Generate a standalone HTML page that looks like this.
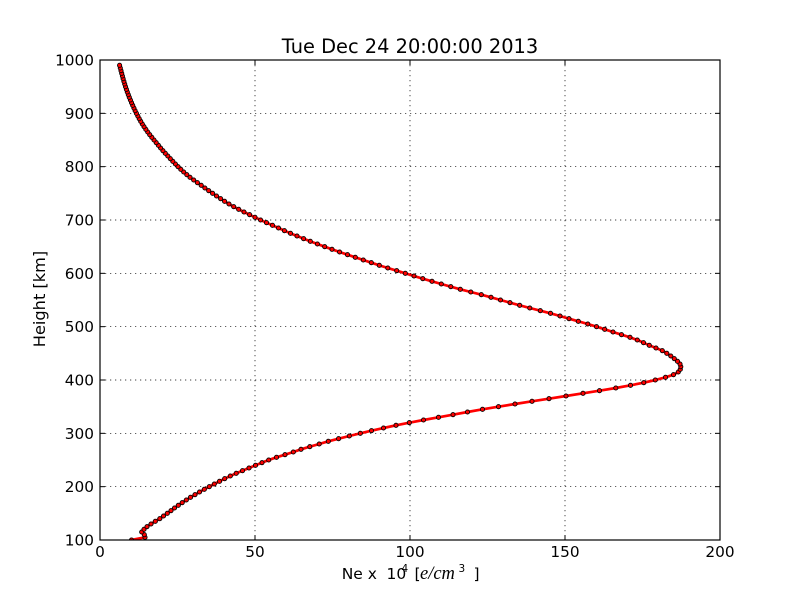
<!DOCTYPE html>
<html>
<head>
<meta charset="utf-8">
<style>
  html,body{margin:0;padding:0;background:#fff;}
  svg{display:block;}
  text{font-family:"DejaVu Sans","Liberation Sans",sans-serif;fill:#000;}
</style>
</head>
<body>
<svg width="800" height="600" viewBox="0 0 800 600" xmlns="http://www.w3.org/2000/svg">
  <defs>
    <clipPath id="ax"><rect x="100" y="60" width="620" height="480"/></clipPath>
    <marker id="m" markerWidth="8" markerHeight="8" refX="4" refY="4" markerUnits="userSpaceOnUse">
      <circle cx="4" cy="4" r="2.1" fill="#ff0000" stroke="#000" stroke-width="0.9"/>
    </marker>
  </defs>
  <rect width="800" height="600" fill="#fff"/>

  <!-- grid -->
  <g stroke="#000" stroke-width="0.7" stroke-dasharray="1.25 3.75" fill="none">
    <line x1="255" y1="60" x2="255" y2="540"/>
    <line x1="410" y1="60" x2="410" y2="540"/>
    <line x1="565" y1="60" x2="565" y2="540"/>
    <line x1="100" y1="113.33" x2="720" y2="113.33"/>
    <line x1="100" y1="166.67" x2="720" y2="166.67"/>
    <line x1="100" y1="220" x2="720" y2="220"/>
    <line x1="100" y1="273.33" x2="720" y2="273.33"/>
    <line x1="100" y1="326.67" x2="720" y2="326.67"/>
    <line x1="100" y1="380" x2="720" y2="380"/>
    <line x1="100" y1="433.33" x2="720" y2="433.33"/>
    <line x1="100" y1="486.67" x2="720" y2="486.67"/>
  </g>

  <!-- data -->
  <g clip-path="url(#ax)">
    <polyline fill="none" stroke="#ff0000" stroke-width="2.7" stroke-linejoin="round"
      marker-start="url(#m)" marker-mid="url(#m)" marker-end="url(#m)"
      points="131.5,540 145,537.33 144.3,534.67 141.7,532 144,529.33 147,526.67 151,524 155.3,521.33 159.8,518.67 163.5,516 167.3,513.33 171,510.67 174.5,508 178.3,505.33 182.2,502.67 186.3,500 190.5,497.33 195,494.67 199.5,492 204.3,489.33 209.3,486.67 214.3,484 219.5,481.33 224.7,478.67 230.3,476 236.2,473.33 242.5,470.67 249,468 255.5,465.33 262,462.67 268.7,460 276.5,457.33 285,454.67 293.3,452 301,449.33 309.8,446.67 319.2,444 328.3,441.33 338.6,438.67 349.3,436 360.3,433.33 371.5,430.67 383.5,428 396,425.33 409.3,422.67 423.5,420 438.5,417.33 453,414.67 467.5,412 482.5,409.33 498.5,406.67 515,404 532,401.33 549,398.67 566,396 583,393.33 599.5,390.67 615.8,388 630.5,385.33 643.8,382.67 655.3,380 665.5,377.33 673.5,374.67 678.3,372 680.3,369.33 680.8,366.67 680,364 677.5,361.33 674.3,358.67 670.8,356 666.8,353.33 662.3,350.67 656,348 649.3,345.33 643.5,342.67 637.3,340 630,337.33 621.5,334.67 613,332 604.7,329.33 596.5,326.67 587.8,324 578.3,321.33 569,318.67 560,316 550.5,313.33 540.3,310.67 529.8,308 519.7,305.33 510,302.67 500.5,300 491,297.33 481.3,294.67 470.8,292 460.3,289.33 450.8,286.67 441.3,284 432,281.33 422.8,278.67 414,276 405.3,273.33 396.7,270.67 387.8,268 379.3,265.33 371.3,262.67 363.3,260 355.3,257.33 347.5,254.67 339.6,252 332,249.33 324.7,246.67 317.4,244 310.3,241.33 303.6,238.67 297,236 290.5,233.33 284.4,230.67 278.5,228 272.5,225.33 266.5,222.67 260.6,220 255,217.33 249.6,214.67 244,212 238.7,209.33 233.7,206.67 229,204 224.6,201.33 220.6,198.67 216.5,196 212.6,193.33 208.7,190.67 204.9,188 201.2,185.33 197.4,182.67 193.7,180 190,177.33 186.8,174.67 183.7,172 180.8,169.33 178,166.67 175.4,164 172.8,161.33 170.3,158.67 167.8,156 165.3,153.33 162.9,150.67 160.6,148 158.4,145.33 156.2,142.67 154,140 151.8,137.33 149.7,134.67 147.7,132 145.8,129.33 144,126.67 142.3,124 140.7,121.33 139.2,118.67 137.8,116 136.4,113.33 135.1,110.67 133.9,108 132.7,105.33 131.5,102.67 130.4,100 129.3,97.33 128.3,94.67 127.3,92 126.4,89.33 125.5,86.67 124.7,84 123.9,81.33 123.1,78.67 122.4,76 121.7,73.33 121,70.67 120.3,68 119.6,65.33"/>
  </g>

  <!-- spines -->
  <rect x="100" y="60" width="620" height="480" fill="none" stroke="#000" stroke-width="1.2"/>

  <!-- ticks -->
  <g stroke="#000" stroke-width="1">
    <line x1="100" y1="540" x2="100" y2="535"/><line x1="100" y1="60" x2="100" y2="65"/>
    <line x1="255" y1="540" x2="255" y2="535"/><line x1="255" y1="60" x2="255" y2="65"/>
    <line x1="410" y1="540" x2="410" y2="535"/><line x1="410" y1="60" x2="410" y2="65"/>
    <line x1="565" y1="540" x2="565" y2="535"/><line x1="565" y1="60" x2="565" y2="65"/>
    <line x1="720" y1="540" x2="720" y2="535"/><line x1="720" y1="60" x2="720" y2="65"/>
    <line x1="100" y1="60" x2="105" y2="60"/><line x1="720" y1="60" x2="715" y2="60"/>
    <line x1="100" y1="113.33" x2="105" y2="113.33"/><line x1="720" y1="113.33" x2="715" y2="113.33"/>
    <line x1="100" y1="166.67" x2="105" y2="166.67"/><line x1="720" y1="166.67" x2="715" y2="166.67"/>
    <line x1="100" y1="220" x2="105" y2="220"/><line x1="720" y1="220" x2="715" y2="220"/>
    <line x1="100" y1="273.33" x2="105" y2="273.33"/><line x1="720" y1="273.33" x2="715" y2="273.33"/>
    <line x1="100" y1="326.67" x2="105" y2="326.67"/><line x1="720" y1="326.67" x2="715" y2="326.67"/>
    <line x1="100" y1="380" x2="105" y2="380"/><line x1="720" y1="380" x2="715" y2="380"/>
    <line x1="100" y1="433.33" x2="105" y2="433.33"/><line x1="720" y1="433.33" x2="715" y2="433.33"/>
    <line x1="100" y1="486.67" x2="105" y2="486.67"/><line x1="720" y1="486.67" x2="715" y2="486.67"/>
    <line x1="100" y1="540" x2="105" y2="540"/><line x1="720" y1="540" x2="715" y2="540"/>
  </g>

  <!-- y tick labels -->
  <g font-size="15.3" text-anchor="end">
    <text x="94" y="65.5">1000</text>
    <text x="94" y="118.8">900</text>
    <text x="94" y="172.2">800</text>
    <text x="94" y="225.5">700</text>
    <text x="94" y="278.8">600</text>
    <text x="94" y="332.2">500</text>
    <text x="94" y="385.5">400</text>
    <text x="94" y="438.8">300</text>
    <text x="94" y="492.2">200</text>
    <text x="94" y="545.5">100</text>
  </g>

  <!-- x tick labels -->
  <g font-size="15.3" text-anchor="middle">
    <text x="100" y="557">0</text>
    <text x="255" y="557">50</text>
    <text x="410" y="557">100</text>
    <text x="565" y="557">150</text>
    <text x="720" y="557">200</text>
  </g>

  <!-- title -->
  <text x="410" y="53" font-size="19.4" text-anchor="middle">Tue Dec 24 20:00:00 2013</text>

  <!-- y label -->
  <text transform="translate(45,299) rotate(-90)" font-size="16.2" text-anchor="middle">Height [km]</text>

  <!-- x label -->
  <text y="579" font-size="15.5">
    <tspan x="341.7">Ne x</tspan>
    <tspan x="386.5">10</tspan>
    <tspan x="401.5" y="572" font-size="10.5">4</tspan>
    <tspan x="414.5" y="579">[</tspan>
    <tspan x="420" y="579" font-family="Liberation Serif, serif" font-style="italic" font-size="18.5">e/cm</tspan>
    <tspan x="458.5" y="572" font-size="10.5">3</tspan>
    <tspan x="473.5" y="579">]</tspan>
  </text>
</svg>
</body>
</html>
